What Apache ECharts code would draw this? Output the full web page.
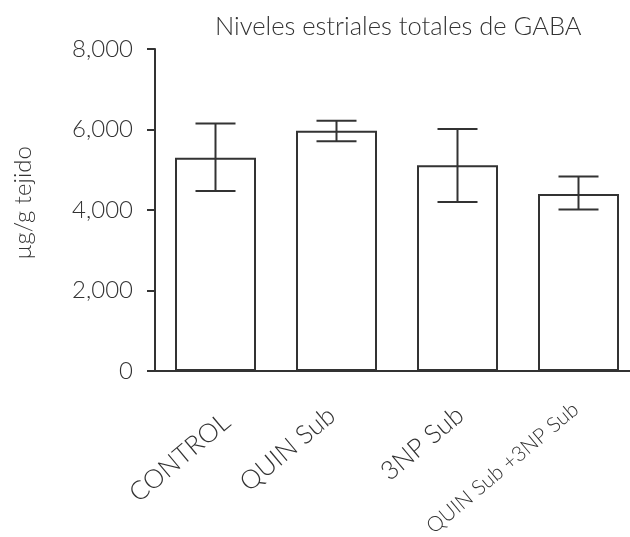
<!DOCTYPE html>
<html>
<head>
<meta charset="utf-8">
<script src="https://cdn.jsdelivr.net/npm/echarts@6/dist/echarts.min.js"></script>
<style>
  html, body { margin: 0; padding: 0; background: #fff; }
  #chart { width: 630px; height: 537px; }
</style>
</head>
<body>
<div id="chart"></div>
<script>
// data
const categories = ['CONTROL', 'QUIN Sub', '3NP Sub', 'QUIN Sub +3NP Sub'];
const means = [5300, 5970, 5110, 4400];
const errLow = [4470, 5710, 4200, 4010];
const errHigh = [6150, 6220, 6010, 4830];
const yTicks = [0, 2000, 4000, 6000, 8000];

const ink = '#333333';
const font = 'Lato, "Open Sans", sans-serif';

const myChart = echarts.init(document.getElementById('chart'));

// per-label nudges so the slanted labels sit where the original ones do
const labelRich = {
  l0: { fontSize: 26, padding: [44, 4, 0, 0] },
  l1: { fontSize: 26, padding: [14, 12, 0, 0] },
  l2: { fontSize: 26, padding: [23, 6, 0, 0] },
  l3: { fontSize: 21, padding: [8, 7, 0, 0] }
};
Object.keys(labelRich).forEach(k => {
  Object.assign(labelRich[k], { color: ink, fontWeight: 300, fontFamily: font });
});

myChart.setOption({
  animation: false,
  backgroundColor: '#ffffff',
  title: {
    text: 'Niveles estriales totales de GABA',
    left: 210,
    top: 9,
    textStyle: { color: ink, fontSize: 25.5, fontWeight: 300, fontFamily: font }
  },
  grid: {
    left: 155,
    top: 49,
    bottom: 166,
    right: -9,
    outerBoundsMode: 'none'
  },
  xAxis: {
    type: 'category',
    data: categories,
    axisLine: { lineStyle: { color: ink, width: 2 } },
    axisTick: { alignWithLabel: true, length: 10, lineStyle: { color: ink, width: 2 } },
    axisLabel: {
      interval: 0,
      rotate: 40,
      margin: 28,
      color: ink,
      fontSize: 26,
      fontWeight: 300,
      fontFamily: font,
      formatter: function (v, i) {
        return '{l' + i + '|' + v + '}';
      },
      rich: labelRich
    }
  },
  yAxis: {
    type: 'value',
    min: yTicks[0],
    max: yTicks[yTicks.length - 1],
    interval: 2000,
    name: 'µg/g tejido',
    nameLocation: 'middle',
    nameGap: 120,
    nameTextStyle: { color: ink, fontSize: 24, fontWeight: 300, fontFamily: font, padding: [0, 0, 0, 14] },
    axisLine: { show: true, lineStyle: { color: ink, width: 2 } },
    axisTick: { show: true, length: 8, lineStyle: { color: ink, width: 2 } },
    splitLine: { show: false },
    axisLabel: {
      margin: 22,
      color: ink,
      fontSize: 24,
      fontWeight: 300,
      fontFamily: font,
      formatter: function (v) {
        return v.toLocaleString('en-US');
      }
    }
  },
  series: [
    {
      type: 'bar',
      data: means,
      barWidth: 81,
      itemStyle: { color: '#ffffff', borderColor: ink, borderWidth: 2 }
    },
    {
      type: 'custom',
      data: categories.map((c, i) => [i, errLow[i], errHigh[i]]),
      renderItem: function (params, api) {
        const lo = api.coord([api.value(0), api.value(1)]);
        const hi = api.coord([api.value(0), api.value(2)]);
        const half = 20;
        const style = { stroke: ink, lineWidth: 2 };
        return {
          type: 'group',
          children: [
            { type: 'line', shape: { x1: hi[0], y1: hi[1], x2: lo[0], y2: lo[1] }, style: style },
            { type: 'line', shape: { x1: hi[0] - half, y1: hi[1], x2: hi[0] + half, y2: hi[1] }, style: style },
            { type: 'line', shape: { x1: lo[0] - half, y1: lo[1], x2: lo[0] + half, y2: lo[1] }, style: style }
          ]
        };
      },
      z: 5
    }
  ]
});
</script>
</body>
</html>
